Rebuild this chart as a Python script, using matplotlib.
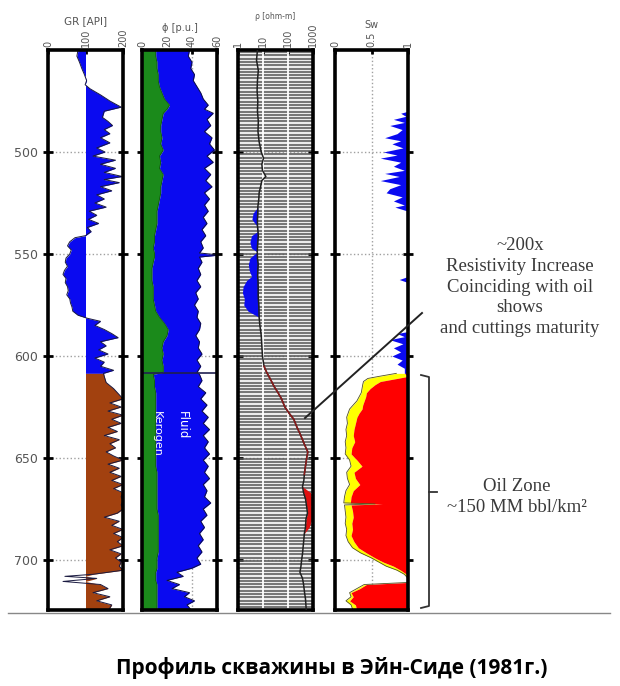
import numpy as np
import matplotlib.pyplot as plt
from matplotlib.lines import Line2D
from matplotlib.ticker import NullLocator

# GR [API]
gr_depth = [450, 453, 456, 459, 462, 465, 467, 469, 472, 475,
            478, 480, 483, 485, 487, 489, 491, 493, 495.5, 498,
            500, 502, 504, 506, 508, 510, 512, 513.5, 515, 517,
            519, 521, 523, 525, 527, 529, 531, 533, 535, 537,
            539, 541, 542, 544, 546, 548, 550, 552, 554, 556,
            558, 560, 562, 564, 566, 568, 570, 572, 574, 576,
            578, 580, 581.5, 583, 585, 587, 589, 591, 593, 595,
            597, 599, 601, 603, 605, 607, 608.5, 610, 613, 616,
            619, 621, 623, 625, 627, 629, 631, 633, 635, 637,
            639, 641, 643, 645, 647, 649, 651, 653, 655, 657,
            659, 661, 663, 665, 667, 669, 671, 673, 675, 677,
            679, 681, 683, 685, 687, 689, 691, 693, 695, 697,
            699, 701, 703, 705, 707, 708, 709, 710.5, 712, 714,
            716, 718, 720, 722, 725]
gr = [80, 77, 84, 90, 97, 103, 99, 112, 140, 165,
      195, 150, 145, 160, 172, 150, 165, 140, 165, 130,
      152, 120, 180, 140, 180, 150, 198, 150, 190, 140,
      170, 130, 150, 125, 155, 110, 130, 108, 135, 105,
      115, 100, 72, 58, 52, 62, 58, 48, 46, 52,
      44, 40, 48, 46, 52, 54, 50, 58, 60, 64,
      66, 80, 105, 140, 125, 150, 170, 187, 140, 155,
      135, 160, 125, 150, 140, 175, 148, 150, 155, 175,
      190, 200, 165, 195, 160, 200, 170, 195, 160, 185,
      150, 190, 165, 180, 155, 175, 200, 160, 190, 165,
      195, 170, 200, 175, 200, 195, 200, 195, 200, 185,
      150, 190, 170, 200, 175, 200, 185, 200, 165, 195,
      180, 195, 190, 200, 120, 45, 130, 40, 140, 160,
      120, 165, 130, 170, 160]

# porosity [p.u.]: kerogen and total
phi_depth = [450, 453, 456, 459, 462, 465, 468, 471, 474, 477,
             479, 481, 484, 487, 490, 493, 496, 499, 502, 505,
             508, 511, 514, 517, 520, 523, 526, 529, 532, 535,
             538, 541, 544, 547, 549.5, 550.5, 551.5, 554, 557, 560,
             563, 566, 569, 572, 575, 578, 581, 584, 587, 590,
             593, 596, 599, 602, 605, 608, 609, 612, 615, 618,
             621, 624, 627, 630, 633, 636, 639, 642, 645, 648,
             651, 654, 657, 660, 663, 666, 669, 672, 675, 678,
             681, 684, 687, 690, 693, 696, 699, 702, 704, 706,
             708, 710, 712, 714, 716, 718, 720, 722, 725]
phi_ker = [11, 11, 12, 12, 13, 13, 14, 16, 18, 22,
           20, 17, 16, 15, 15, 16, 15, 17, 14, 15,
           14, 17, 16, 15, 15, 14, 13, 12, 12, 12,
           11, 10, 10, 9, 10, 10, 10, 9, 8, 8,
           8, 9, 9, 9, 10, 11, 14, 18, 21, 20,
           17, 16, 17, 16, 17, 17, 9, 10, 10, 11,
           11, 11, 11, 11, 11, 11, 11, 11, 11, 11,
           11, 11, 12, 12, 12, 12, 12, 12, 12, 13,
           13, 13, 13, 13, 13, 13, 12, 12, 12, 11,
           11, 11, 12, 12, 12, 12, 12, 12, 12]
phi_tot = [38, 37, 40, 39, 42, 41, 44, 47, 49, 53,
           50, 57, 52, 55, 50, 56, 54, 58, 52, 57,
           50, 55, 51, 56, 50, 54, 50, 53, 49, 52,
           48, 51, 47, 49, 46, 62, 46, 48, 45, 47,
           44, 47, 43, 45, 42, 45, 44, 47, 46, 43,
           46, 45, 48, 44, 47, 44, 46, 48, 45, 51,
           47, 52, 48, 53, 49, 54, 49, 53, 50, 54,
           49, 53, 50, 54, 49, 52, 50, 55, 49, 52,
           47, 50, 46, 49, 45, 48, 44, 47, 40, 28,
           33, 20, 30, 24, 38, 34, 42, 36, 40]

# resistivity [ohm-m]
rho_depth = [450, 455, 460, 465, 470, 475, 480, 485, 490, 495,
             500, 503, 506, 509, 512, 514, 517, 520, 523, 527,
             530, 533, 536, 539, 541, 544, 547, 549, 552, 555,
             558, 561, 563, 566, 569, 572, 575, 578, 581, 585,
             590, 595, 600, 605, 608, 612, 615, 618, 621, 625,
             628, 631, 635, 638, 641, 644, 647, 650, 654, 658,
             661, 664, 667, 670, 674, 677, 680, 684, 687, 690,
             694, 697, 700, 703, 706, 709, 712, 716, 719, 722,
             725]
rho = [6.0, 5.5, 6.5, 6.0, 5.8, 6.2, 6.0, 6.5, 6.3, 7.0,
       8.5, 10.5, 9.0, 9.5, 13.0, 9.0, 8.0, 7.0, 6.8, 6.2,
       6.2, 6.0, 6.0, 6.3, 6.5, 6.2, 6.0, 5.9, 6.0, 6.4,
       6.2, 6.1, 6.3, 6.4, 6.4, 6.5, 6.8, 6.9, 7.0, 7.5,
       8.5, 9.0, 9.5, 11, 14, 21, 28, 40, 55, 75,
       110, 170, 230, 300, 380, 480, 620, 560, 500, 450,
       430, 380, 420, 500, 560, 600, 520, 500, 450, 430,
       400, 380, 350, 330, 300, 380, 420, 460, 500, 520,
       540]
blue_depth = [527, 530, 533, 536, 539, 541, 544, 547, 549, 552,
              555, 558, 561, 563, 566, 569, 572, 575, 578, 581]
blue_left = [6.2, 4.0, 3.6, 5.5, 6.0, 3.5, 3.0, 3.4, 5.8, 3.0,
             2.6, 2.8, 3.5, 2.2, 1.6, 1.5, 1.8, 1.7, 2.5, 7.0]
blue_right = [6.2, 6.2, 6.0, 6.0, 6.3, 6.5, 6.2, 6.0, 5.9, 6.0,
              6.4, 6.2, 6.1, 6.3, 6.4, 6.4, 6.5, 6.8, 6.9, 7.0]
red_depth = [664, 667, 670, 674, 677, 680, 684, 687]
red_left = [380, 420, 500, 560, 600, 520, 500, 450]
red_right = [380, 800, 900, 850, 1000, 900, 700, 450]

# Sw
sw_depth = [450, 480, 481, 482.5, 484, 485.5, 487, 489, 491, 493,
            494.5, 496, 498, 500, 501.5, 503, 505, 507, 509, 510.5,
            512, 514, 516, 518, 520, 522, 524, 526, 527, 529,
            561, 562.5, 564, 588, 589, 590.5, 592, 594, 596, 598,
            600, 602, 604, 606, 608.5]
sw = [1.0, 1.0, 0.9, 0.97, 0.8, 0.95, 0.75, 0.92, 0.85, 0.68,
      0.9, 0.78, 0.93, 0.66, 0.85, 0.62, 0.9, 0.8, 0.95, 0.68,
      0.88, 0.62, 0.9, 0.75, 0.7, 0.92, 0.8, 0.95, 0.82, 1.0,
      1.0, 0.88, 1.0, 1.0, 0.85, 0.95, 0.75, 0.93, 0.8, 0.9,
      0.78, 0.92, 0.85, 0.95, 0.95]
oil_depth = [608.5, 610, 611, 612.5, 614, 616, 618, 620, 622, 624,
             626, 628, 630, 633, 636, 639, 642, 645, 648, 651,
             654, 657, 660, 663, 666, 669, 672, 672.5, 673, 676,
             679, 682, 685, 688, 691, 694, 696.5, 699, 701, 703,
             705, 707, 709, 711, 712, 714, 716, 718, 720, 722,
             725]
oil_sw = [0.95, 1.0, 0.85, 0.62, 0.55, 0.48, 0.43, 0.42, 0.40, 0.38,
          0.37, 0.33, 0.30, 0.28, 0.26, 0.25, 0.27, 0.23, 0.22, 0.30,
          0.37, 0.26, 0.28, 0.34, 0.25, 0.22, 0.21, 0.65, 0.22, 0.24,
          0.25, 0.23, 0.24, 0.22, 0.26, 0.32, 0.43, 0.55, 0.66, 0.80,
          0.90, 0.98, 1.0, 1.0, 0.43, 0.34, 0.22, 0.25, 0.20, 0.28,
          0.30]
oil_yellow = [0.84, 0.6, 0.45, 0.39, 0.38, 0.37, 0.36, 0.33, 0.30, 0.25,
              0.20, 0.18, 0.16, 0.17, 0.15, 0.16, 0.14, 0.15, 0.14, 0.20,
              0.22, 0.16, 0.17, 0.20, 0.15, 0.13, 0.12, 0.55, 0.13, 0.14,
              0.15, 0.14, 0.16, 0.15, 0.18, 0.24, 0.35, 0.50, 0.60, 0.70,
              0.85, 0.95, 1.0, 1.0, 0.40, 0.30, 0.20, 0.22, 0.15, 0.22,
              0.25]

depth_ticks = [500, 550, 600, 650, 700]
top_depth, bottom_depth = 450, 724.5
zone_top = 608.5

W, H = 620, 686
fig = plt.figure(figsize=(6.2, 6.86), dpi=100)


def fx(x):
    return x / W


def fy(y):
    return 1 - y / H


def track(x0, x1, first=False):
    ax = fig.add_axes([fx(x0), fy(610), (x1 - x0) / W, (610 - 50) / H])
    ax.set_ylim(bottom_depth, top_depth)
    ax.set_yticks(depth_ticks)
    ax.tick_params(axis='y', direction='inout', length=7, width=2,
                   left=True, right=True, labelleft=first,
                   labelsize=9, labelcolor='#555555')
    ax.xaxis.tick_top()
    ax.xaxis.set_label_position('top')
    ax.tick_params(axis='x', direction='in', length=3, width=2,
                   labelrotation=90, labelsize=7, labelcolor='#555555', pad=2)
    ax.grid(axis='y', linestyle=':', color='#a0a0a0', lw=1)
    ax.set_axisbelow(True)
    for s in ax.spines.values():
        s.set_linewidth(2.6)
    return ax


gr_d = np.array(gr_depth)
gr_v = np.array(gr)

ax1 = track(48, 123, first=True)
ax1.set_xlim(0, 200)
ax1.set_xticks([0, 100, 200])
ax1.fill_betweenx(gr_d, 100, gr_v, where=gr_d <= zone_top, color='#0a0af0',
                  interpolate=True, lw=0)
ax1.fill_betweenx(gr_d, 100, np.maximum(gr_v, 100), where=gr_d >= zone_top,
                  color='#a2410f', interpolate=True, lw=0)
ax1.plot(gr_v, gr_d, color='#1a1a40', lw=0.7)
ax1.set_xlabel('GR [API]', fontsize=7.5, color='#555555', labelpad=3)

ax2 = track(142, 217)
ax2.set_xlim(0, 60)
ax2.set_xticks([0, 20, 40, 60])
ax2.grid(axis='x', linestyle=':', color='#a0a0a0', lw=1)
ax2.fill_betweenx(phi_depth, 0, phi_ker, color='#1b8a1b', lw=0)
ax2.fill_betweenx(phi_depth, phi_ker, phi_tot, color='#0a0af0', lw=0)
ax2.plot(phi_tot, phi_depth, color='#101040', lw=0.7)
ax2.plot(phi_ker, phi_depth, color='#105010', lw=0.5)
ax2.axhline(zone_top, color='#202050', lw=1.2)
ax2.text(12, 638, 'Kerogen', rotation=-90, color='white', fontsize=8,
         ha='center', va='center')
ax2.text(32, 634, 'Fluid', rotation=-90, color='white', fontsize=8.5,
         ha='center', va='center')
ax2.set_xlabel('ϕ [p.u.]', fontsize=7, color='#555555', labelpad=3)

ax3 = track(238, 313)
ax3.set_xscale('log')
ax3.set_xlim(1, 1000)
ax3.set_xticks([1, 10, 100, 1000])
ax3.set_xticklabels(['1', '10', '100', '1000'])
ax3.xaxis.set_minor_locator(NullLocator())
ax3.set_facecolor('#ececec')
ax3.hlines(np.arange(451, 724, 1.62), 1, 1000, color='#555555', lw=1.1, zorder=1)
ax3.vlines([10, 100], top_depth, bottom_depth, color='white', lw=1.3, zorder=1.5)
ax3.fill_betweenx(blue_depth, blue_left, blue_right, color='#0a0af0', lw=0, zorder=2)
ax3.fill_betweenx(red_depth, red_left, red_right, color='#e01010', lw=0, zorder=2)
rho_d = np.array(rho_depth)
rho_v = np.array(rho)
ax3.plot(rho_v, rho_d, color='#202020', lw=1.1, zorder=3)
mid = (rho_d >= 605) & (rho_d <= 660)
ax3.plot(rho_v[mid], rho_d[mid], color='#8b1a1a', lw=1.1, zorder=3)
ax3.set_xlabel('ρ [ohm-m]', fontsize=5.5, color='#555555', labelpad=3)

ax4 = track(335, 408)
ax4.set_xlim(0, 1)
ax4.set_xticks([0, 0.5, 1])
ax4.set_xticklabels(['0', '0.5', '1'])
ax4.axvline(0.5, linestyle=':', color='#a0a0a0', lw=1, zorder=0)
ax4.fill_betweenx(sw_depth, sw, 1, color='#0a0af0', lw=0)
ax4.fill_betweenx(oil_depth, oil_yellow, oil_sw, color='#ffff00', lw=0)
ax4.fill_betweenx(oil_depth, oil_sw, 1, color='#ff0000', lw=0)
ax4.plot(oil_yellow, oil_depth, color='#505020', lw=0.6)
ax4.set_xlabel('Sw', fontsize=7, color='#555555', labelpad=3)

# annotations
fig.add_artist(Line2D([fx(422), fx(305)], [fy(313), fy(418)],
                      transform=fig.transFigure, color='#222222', lw=1.4))
fig.add_artist(Line2D([fx(421), fx(429), fx(429), fx(421)],
                      [fy(375), fy(377), fy(606), fy(608)],
                      transform=fig.transFigure, color='#333333', lw=1.3))
fig.add_artist(Line2D([fx(429), fx(437)], [fy(492), fy(492)],
                      transform=fig.transFigure, color='#333333', lw=1.3))
fig.add_artist(Line2D([fx(8), fx(610)], [fy(613), fy(613)],
                      transform=fig.transFigure, color='#888888', lw=1))

fig.text(fx(520), fy(287), '~200x\nResistivity Increase\nCoinciding with oil\nshows\nand cuttings maturity',
         ha='center', va='center', fontsize=13.5, family='Liberation Serif',
         color='#3a3a3a', linespacing=1.28)
fig.text(fx(517), fy(497), 'Oil Zone\n~150 MM bbl/km²', ha='center', va='center',
         fontsize=13.5, family='Liberation Serif', color='#3a3a3a', linespacing=1.25)

fig.text(fx(332), fy(668), 'Профиль скважины в Эйн-Сиде (1981г.)', ha='center',
         va='center', fontsize=15, fontweight='bold', family='Open Sans', color='black')

fig.savefig('out.png', dpi=100)
